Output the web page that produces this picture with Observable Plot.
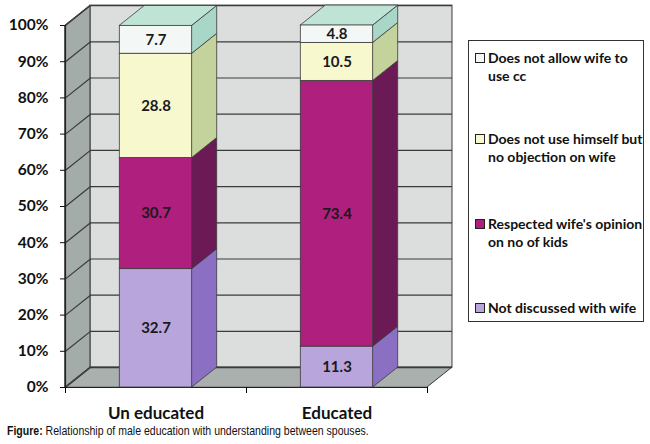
<!DOCTYPE html>
<html>
<head>
<meta charset="utf-8">
<script src="https://cdn.jsdelivr.net/npm/d3@7"></script>
<script src="https://cdn.jsdelivr.net/npm/@observablehq/plot@0.6"></script>
<style>
  html, body { margin: 0; padding: 0; background: #fff; }
  #wrap { position: relative; width: 650px; height: 444px; overflow: hidden; font-family: Lato, "Open Sans", sans-serif; }
  #chart { position: absolute; left: 0; top: 0; }
  #legend { position: absolute; left: 468px; top: 40px; width: 176px; height: 282px; border: 1px solid #333; box-sizing: border-box; background: #fff; }
  .item { position: absolute; left: 6px; font-weight: bold; font-size: 14px; line-height: 18px; color: #111; white-space: nowrap; }
  .sw { position: absolute; left: 0; top: 4px; width: 8px; height: 8px; border: 1px solid #222; }
  .lbl { position: absolute; left: 13px; top: 0; transform-origin: 0 0; }
  #caption { position: absolute; left: 7px; top: 424px; font-family: "Liberation Sans", Arial, sans-serif; font-size: 13px; line-height: 14px; color: #111; white-space: nowrap; transform-origin: 0 0; }
</style>
</head>
<body>
<div id="wrap">
  <div id="chart"></div>
  <div id="legend"></div>
  <div id="caption"><b>Figure:</b> Relationship of male education with understanding between spouses.</div>
</div>
<script>
// ---- data ----
const categories = ["Un educated", "Educated"];
const series = [
  "Not discussed with wife",
  "Respected wife's opinion on no of kids",
  "Does not use himself but no objection on wife",
  "Does not allow wife to use cc"
];
const unEducatedValues = [32.7, 30.7, 28.8, 7.7];
const educatedValues = [11.3, 73.4, 10.5, 4.8];
const yTicks = [0, 10, 20, 30, 40, 50, 60, 70, 80, 90, 100];
const legendLines = [
  ["Does not allow wife to", "use cc"],
  ["Does not use himself but", "no objection on wife"],
  ["Respected wife's opinion", "on no of kids"],
  ["Not discussed with wife"]
];

// ---- styles ----
const frontColors = ["#b7a5db", "#ae1f7e", "#f8f8cf", "#f3f8f6"];
const sideColors  = ["#8a6fc2", "#6c1a56", "#c3d39b", "#a9d7c7"];
const topColor = "#bfe3d5";
const dX = 0.138, dY = 5.5, halfW = 0.2;
const edge = "#3a3a3a";

// ---- build stacked segments ----
const valuesByCat = [unEducatedValues, educatedValues];
const segments = [];
valuesByCat.forEach((vals, ci) => {
  let acc = 0;
  vals.forEach((v, si) => {
    segments.push({cat: ci, c: ci + 0.5, s: si, v, y1: acc, y2: acc + v});
    acc += v;
  });
});
const tops = valuesByCat.map((vals, ci) => ({c: ci + 0.5, top: d3.sum(vals)}));

const sidePts = segments.flatMap((d, i) => [
  {id: i, s: d.s, x: d.c + halfW, y1: d.y1, y2: d.y2},
  {id: i, s: d.s, x: d.c + halfW + dX, y1: d.y1 + dY, y2: d.y2 + dY}
]);
const topPts = tops.flatMap((d, i) => [
  {id: i, y: d.top, x1: d.c - halfW, x2: d.c + halfW},
  {id: i, y: d.top + dY, x1: d.c - halfW + dX, x2: d.c + halfW + dX}
]);

const chart = Plot.plot({
  width: 650,
  height: 424,
  marginLeft: 65,
  marginRight: 223,
  marginTop: 25,
  marginBottom: 37,
  x: {domain: [0, 2], axis: null},
  y: {domain: [0, 100], axis: null},
  style: {fontFamily: "Lato, 'Open Sans', sans-serif", background: "transparent", overflow: "visible"},
  marks: [
    // back wall
    Plot.rect([0], {x1: () => dX, x2: () => 2 + dX, y1: () => dY, y2: () => 100 + dY, fill: "#dcdede", stroke: edge, strokeWidth: 1}),
    // left wall
    Plot.areaY([{x: 0, y1: 0, y2: 100}, {x: dX, y1: dY, y2: 100 + dY}], {x: "x", y1: "y1", y2: "y2", fill: "#a4acaa", stroke: edge, strokeWidth: 1}),
    // floor
    Plot.areaX([{y: 0, x1: 0, x2: 2}, {y: dY, x1: dX, x2: 2 + dX}], {y: "y", x1: "x1", x2: "x2", fill: "#aab0ae", stroke: edge, strokeWidth: 1}),
    // grid lines on back wall
    Plot.ruleY(yTicks, {y: d => d + dY, x1: () => dX, x2: () => 2 + dX, stroke: edge, strokeWidth: 1.2}),
    // grid lines on left wall
    Plot.link(yTicks, {x1: () => 0, y1: d => d, x2: () => dX, y2: d => d + dY, stroke: edge, strokeWidth: 1.2}),
    // front axis lines
    Plot.ruleX([0], {y1: () => 0, y2: () => 100, stroke: "#222", strokeWidth: 1.2}),
    Plot.ruleY([0], {x1: () => 0, x2: () => 2, stroke: "#222", strokeWidth: 1.2}),
    // bar side faces
    Plot.areaY(sidePts, {x: "x", y1: "y1", y2: "y2", z: "id", fill: d => sideColors[d.s], stroke: edge, strokeWidth: 0.8}),
    // bar top faces
    Plot.areaX(topPts, {y: "y", x1: "x1", x2: "x2", z: "id", fill: topColor, stroke: edge, strokeWidth: 0.8}),
    // bar front faces
    Plot.rect(segments, {x1: d => d.c - halfW, x2: d => d.c + halfW, y1: "y1", y2: "y2", fill: d => frontColors[d.s], stroke: edge, strokeWidth: 0.8}),
    // value labels
    Plot.text(segments, {x: "c", y: d => (d.y1 + d.y2) / 2, text: d => d.v.toFixed(1), fontSize: 15, fontWeight: "bold", fill: "#1a1a1a"}),
    // axes
    Plot.axisY({ticks: yTicks, tickFormat: d => d + "%", tickSize: 5, tickPadding: 12, fontSize: 15.5, fontWeight: "bold", label: null, color: "#111"}),
    Plot.axisX({ticks: [0, 1, 2], tickFormat: () => "", tickSize: 6, label: null}),
    Plot.axisX({ticks: [0.5, 1.5], tickFormat: (d, i) => categories[i], tickSize: 0, tickPadding: 19, fontSize: 17, fontWeight: "bold", label: null, color: "#111"})
  ]
});
document.getElementById("chart").appendChild(chart);

// ---- legend ----
const legend = document.getElementById("legend");
const itemTops = [8, 89, 174, 258];
const legendOrder = [3, 2, 1, 0];
legendOrder.forEach((si, k) => {
  const it = document.createElement("div");
  it.className = "item";
  it.style.top = itemTops[k] + "px";
  const sw = document.createElement("div");
  sw.className = "sw";
  sw.style.background = frontColors[si];
  const lbl = document.createElement("div");
  lbl.className = "lbl";
  lbl.innerHTML = legendLines[k].join("<br>");
  lbl.title = series[si];
  it.appendChild(sw);
  it.appendChild(lbl);
  legend.appendChild(it);
});
// fit legend text width to the box (widest line ~154px)
const lbls = [...document.querySelectorAll(".lbl")];
const maxW = Math.max(...lbls.map(l => l.scrollWidth));
if (maxW > 0) lbls.forEach(l => l.style.transform = `scaleX(${154 / maxW})`);
// condense caption to its width in the reference (~362px)
const cap = document.getElementById("caption");
const cw = cap.scrollWidth;
if (cw > 0) cap.style.transform = `scaleX(${362 / cw})`;
</script>
</body>
</html>
